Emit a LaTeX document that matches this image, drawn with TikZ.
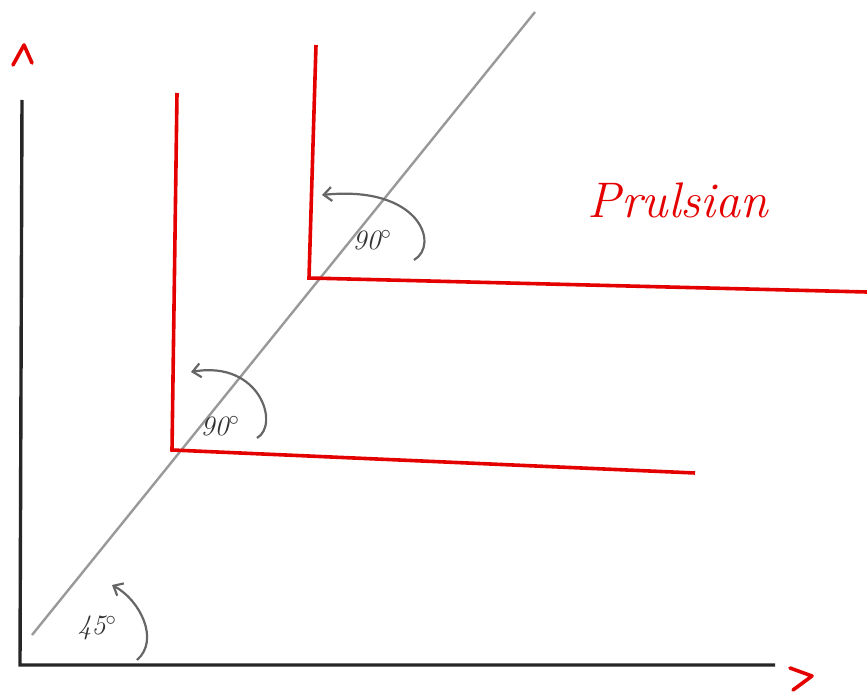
\documentclass[tikz,border=0pt]{standalone}
\usetikzlibrary{arrows.meta}
\begin{document}
\begin{tikzpicture}[x=1pt,y=-1pt,
  axis/.style={line width=3.4pt,black!85},
  redline/.style={line width=3.6pt,red!90!black},
  diag/.style={line width=2.4pt,gray!80},
  garc/.style={line width=2.2pt,gray!80!black,-{Straight Barb[length=8pt,width=14pt]}},
  glabel/.style={text=gray!40!black,font=\fontsize{28}{30}\selectfont\itshape},
  chev/.style={line width=3.6pt,red!90!black,line cap=round,line join=round}]
\useasboundingbox (0,0) rectangle (867,695);
% axes
\coordinate (O) at (20,665);
\coordinate (Ytop) at (22,100);
\coordinate (Xend) at (775,665);
\draw[axis] (Ytop) -- (O) -- (Xend);
\draw[chev] (13,65) -- (24,45) -- (32,63);
\draw[chev] (790,668) -- (812,676) -- (793,690);
% diagonal
\coordinate (D0) at (32,635);
\coordinate (D1) at (535,12);
\draw[diag] (D0) -- (D1);
% red L shapes
\coordinate (A1) at (177,93);
\coordinate (C1) at (172,450);
\coordinate (B1) at (695,473);
\draw[redline] (A1) -- (C1) -- (B1);
\coordinate (A2) at (316,45);
\coordinate (C2) at (309,278);
\coordinate (B2) at (867,292);
\draw[redline] (A2) -- (C2) -- (B2);
% angle arcs
\coordinate (s2) at (414,260);
\coordinate (e2) at (322,195);
\draw[garc] (s2) .. controls (440,245) and (420,185) .. (e2);
\node[glabel] (l2) at (372,240) {90$^{\circ}$};
\coordinate (s1) at (257,438);
\coordinate (e1) at (191,372);
\draw[garc] (s1) .. controls (280,425) and (260,360) .. (e1);
\node[glabel] (l1) at (220,426) {90$^{\circ}$};
\coordinate (s0) at (137,660);
\coordinate (e0) at (112,585);
\draw[garc] (s0) .. controls (160,640) and (140,600) .. (e0);
\node[glabel] (l0) at (97,628) {45$^{\circ}$};
% title
\node[text=red!90!black,font=\fontsize{50}{52}\selectfont\itshape] (t) at (678,200) {Prulsian};
\end{tikzpicture}
\end{document}
